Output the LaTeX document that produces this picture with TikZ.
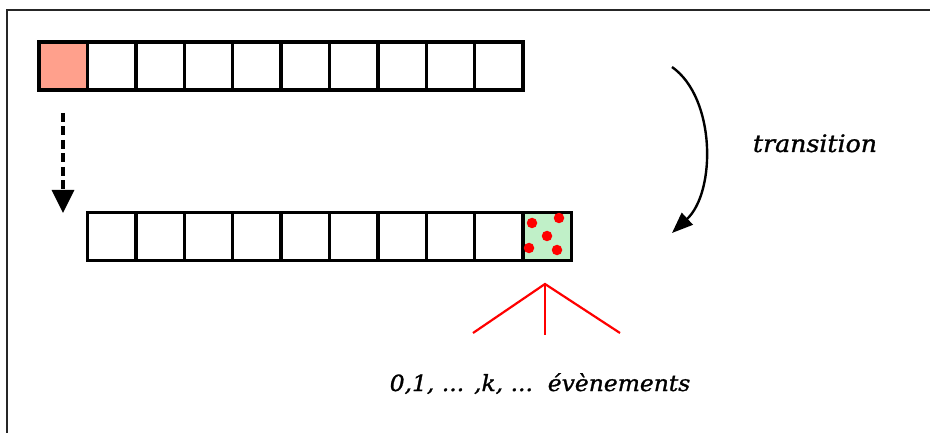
\documentclass[tikz,border=0pt]{standalone}
\usepackage{fontspec}
\newfontfamily\labelfont[FakeBold=1.2,FakeStretch=1.05]{DejaVu Serif}
\usetikzlibrary{arrows.meta}
\definecolor{cellpink}{RGB}{255,160,140}
\definecolor{cellgreen}{RGB}{192,240,200}
\begin{document}
\begin{tikzpicture}[x=1pt,y=-1pt,
  cell/.style={draw=black,line width=3.4pt,minimum width=48.4pt,minimum height=48pt,inner sep=0pt,fill=white},
  dot/.style={circle,fill=red,inner sep=0pt,minimum size=10.5pt},
  lbl/.style={font=\labelfont\itshape\fontsize{24}{28}\selectfont,inner sep=0pt,anchor=base},
  branch/.style={draw=red,line width=2.2pt}]
\useasboundingbox (0,0) rectangle (930,433);
% frame edges
\draw[line width=2.4pt,black!85] (7,433) -- (7,10) -- (930,10);
% upper row of cells
\foreach \i in {0,...,9}
  \node[cell] (t\i) at ({39+48.4*(\i+0.5)},66) {};
\node[cell,fill=cellpink] at (t0) {};
% lower row of cells
\foreach \i in {0,...,9}
  \node[cell] (b\i) at ({87.5+48.4*(\i+0.5)},236.5) {};
\node[cell,fill=cellgreen] (last) at (b9) {};
% events in the new cell
\node[dot] (e1) at (532,223) {};
\node[dot] (e2) at (559,218) {};
\node[dot] (e3) at (547,236) {};
\node[dot] (e4) at (529,248) {};
\node[dot] (e5) at (557,250) {};
% shift arrow
\coordinate (s0) at (63,113);
\coordinate (s1) at (63,213);
\draw[line width=3.4pt,dash pattern=on 9pt off 4.5pt,-{Triangle[width=22pt,length=23pt]}] (s0) -- (s1);
% transition arrow
\coordinate (c0) at (672,67);
\coordinate (c1) at (672,233);
\draw[line width=2.4pt,-{Triangle[width=16pt,length=21pt]}] (c0) .. controls (716,98) and (716,192) .. (c1);
\node[lbl] (tr) at (815,152) {transition};
% branches below the new cell
\coordinate (apex) at (545,284);
\coordinate (bl) at (473,333);
\coordinate (bm) at (545,335);
\coordinate (br) at (620,333);
\draw[branch] (bl) -- (apex) -- (br);
\draw[branch] (apex) -- (bm);
\node[lbl,font=\labelfont\itshape\fontsize{22.3}{26}\selectfont] (ev) at (540,391) {0,1, ... ,k, ...\ \ évènements};
\end{tikzpicture}
\end{document}
